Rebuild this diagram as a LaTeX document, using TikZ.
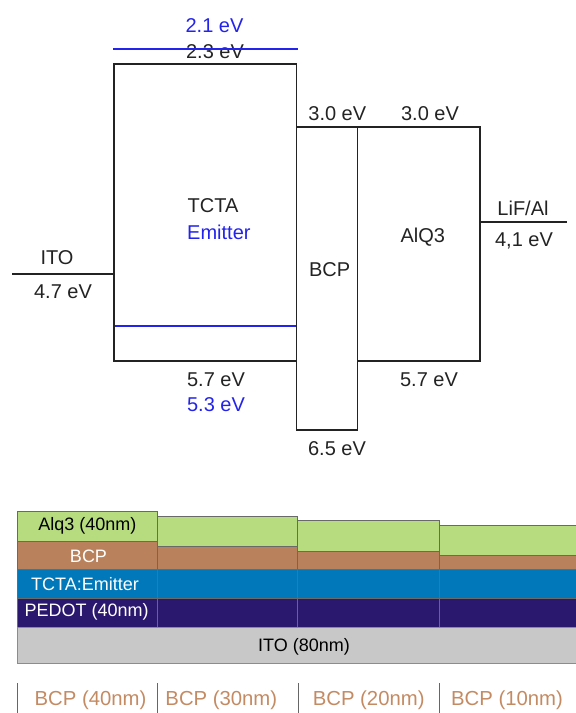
\documentclass[tikz,border=0pt]{standalone}
\usepackage{fontspec}
\setmainfont{Liberation Sans}
\usepackage{tikz}
\definecolor{levelblue}{RGB}{35,35,235}
\definecolor{leveldark}{RGB}{35,35,35}
\definecolor{alqgreen}{RGB}{183,220,128}
\definecolor{bcpbrown}{RGB}{186,130,92}
\definecolor{tctablue}{RGB}{0,120,185}
\definecolor{pedotpurple}{RGB}{42,23,110}
\definecolor{itogrey}{RGB}{200,200,200}
\definecolor{itolight}{RGB}{220,220,220}
\definecolor{layeredge}{RGB}{105,105,105}
\definecolor{bcptext}{RGB}{196,138,98}
\tikzset{
  level/.style={draw=leveldark, line width=1.1pt},
  bluelevel/.style={draw=levelblue, line width=1.1pt},
  evlabel/.style={text=leveldark, font=\fontsize{20}{23}\selectfont, inner sep=0pt},
  bluelabel/.style={evlabel, text=levelblue},
  layer/.style={draw=layeredge, line width=0.6pt},
  layerlabel/.style={font=\fontsize{18}{21}\selectfont, inner sep=0pt},
  bcptag/.style={text=bcptext, font=\fontsize{20.3}{23}\selectfont, inner sep=0pt},
  tagsep/.style={draw=black!60, line width=0.8pt}
}
\begin{document}
\begin{tikzpicture}[x=1pt,y=-1pt]
  \useasboundingbox (0,0) rectangle (576,713);

  % energy levels
  \draw[bluelevel] (114,326) -- (296.5,326);
  \draw[level] (114,64) rectangle (296.5,361);
  \draw[level] (296.5,127) rectangle (357.5,430);
  \draw[level] (357.5,127) rectangle (480,361);
  \coordinate (itoend) at (12,274);
  \coordinate (lifend) at (567,222);
  \draw[level] (itoend) -- (114,274);
  \draw[level] (480,222) -- (lifend);

  \node[bluelabel] (lumoemit) at (214.5,26) {2.1 eV};
  \node[evlabel] (lumotcta) at (215,51.5) {2.3 eV};
  \draw[bluelevel] (113,49) -- (297.5,49);
  \node[evlabel,anchor=west] (tcta) at (187.5,205.5) {TCTA};
  \node[bluelabel,anchor=west] (emit) at (187,232) {Emitter};
  \node[evlabel] (ito) at (57,258) {ITO};
  \node[evlabel] (itowf) at (63,292) {4.7 eV};
  \node[evlabel] (lumobcp) at (337.3,114) {3.0 eV};
  \node[evlabel] (lumoalq) at (430,114) {3.0 eV};
  \node[evlabel] (bcp) at (329.7,270) {BCP};
  \node[evlabel] (alq) at (422.8,237) {AlQ3};
  \node[evlabel] (lif) at (523,208.3) {LiF/Al};
  \node[evlabel] (lifwf) at (524,240.7) {4,1 eV};
  \node[evlabel] (homotcta) at (216,379.3) {5.7 eV};
  \node[bluelabel] (homoemit) at (216,405) {5.3 eV};
  \node[evlabel] (homobcp) at (337,448.3) {6.5 eV};
  \node[evlabel] (homoalq) at (429,380) {5.7 eV};

  % device stacks
  \foreach \xa/\xb/\ya/\yb in {17.3/157.5/511.7/541.5,157.5/297.7/516.2/546,297.7/439/520.7/551,439/577/525/555.3}{
    \draw[layer,fill=alqgreen] (\xa,\ya) rectangle (\xb,\yb);
    \draw[layer,fill=bcpbrown] (\xa,\yb) rectangle (\xb,569);
    \draw[layer,fill=tctablue] (\xa,569) rectangle (\xb,598.3);
    \draw[layer,fill=pedotpurple] (\xa,598.3) rectangle (\xb,627.7);
  }
  \shade[left color=itogrey,middle color=itolight,right color=itogrey] (17.3,627.7) rectangle (577,663.3);
  \draw[layer,draw=black!45] (17.3,627.7) rectangle (577,663.3);

  \node[layerlabel] (alqlayer) at (87.4,525.7) {Alq3 (40nm)};
  \node[layerlabel,text=white] (bcplayer) at (88.5,556) {BCP};
  \node[layerlabel,text=white] (tctalayer) at (85,584.5) {TCTA:Emitter};
  \node[layerlabel,text=white] (pedotlayer) at (86.7,612.3) {PEDOT (40nm)};
  \node[layerlabel] (itolayer) at (304,646.5) {ITO (80nm)};

  % thickness tags
  \foreach \xs/\xt/\d in {17.3/90.5/40,157.7/221.3/30,298.7/368.7/20,439.3/507/10}{
    \draw[tagsep] (\xs,683) -- (\xs,713);
    \node[bcptag] (tag\d) at (\xt,700) {BCP (\d nm)};
  }
\end{tikzpicture}
\end{document}
